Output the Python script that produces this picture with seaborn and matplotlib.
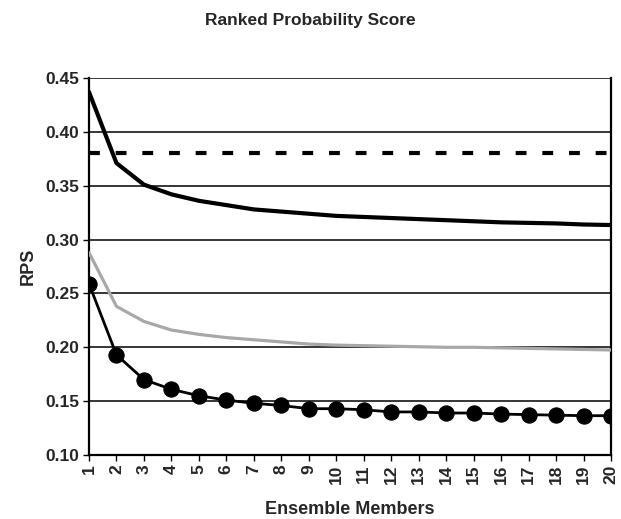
import pandas as pd
import seaborn as sns
import matplotlib.pyplot as plt

# Valeurs
members = list(range(1, 21))
climatology = [0.380] * 20
rps_solid = [0.437, 0.371, 0.351, 0.342, 0.336, 0.332, 0.328, 0.326, 0.324, 0.322,
             0.321, 0.320, 0.319, 0.318, 0.317, 0.316, 0.3155, 0.315, 0.314, 0.3135]
rps_gray = [0.288, 0.238, 0.224, 0.216, 0.212, 0.209, 0.207, 0.205, 0.203, 0.202,
            0.2015, 0.201, 0.2005, 0.200, 0.200, 0.1995, 0.199, 0.1985, 0.198, 0.1975]
rps_dots = [0.259, 0.193, 0.170, 0.161, 0.155, 0.151, 0.148, 0.146, 0.143, 0.143,
            0.142, 0.140, 0.140, 0.139, 0.139, 0.138, 0.1375, 0.137, 0.1365, 0.1365]
yticks = [0.10, 0.15, 0.20, 0.25, 0.30, 0.35, 0.40, 0.45]

df = pd.DataFrame({'Members': members, 'Clim': climatology, 'Solid': rps_solid,
                   'Gray': rps_gray, 'Dots': rps_dots})

sns.set_style('white')
plt.rcParams['font.family'] = ['Liberation Sans', 'DejaVu Sans']
plt.rcParams['font.weight'] = 'bold'

fig = plt.figure(figsize=(6.21, 5.19), dpi=100)
ax = fig.add_axes([0.1433, 0.1233, 0.8406, 0.7264])

for y in yticks:
    ax.axhline(y, color='black', lw=1.1, zorder=0)

sns.lineplot(data=df, x='Members', y='Clim', ax=ax, color='black', lw=3,
             dashes=False, zorder=2).lines[-1].set_dashes((2.6, 3.8))
sns.lineplot(data=df, x='Members', y='Solid', ax=ax, color='black', lw=3, zorder=3)
sns.lineplot(data=df, x='Members', y='Gray', ax=ax, color='#a8a8a8', lw=2.3, zorder=3)
sns.lineplot(data=df, x='Members', y='Dots', ax=ax, color='black', lw=2,
             marker='o', markersize=11, markeredgecolor='black', zorder=4)

ax.set_xlim(1, 20)
ax.set_ylim(0.10, 0.45)
ax.set_xticks(members)
ax.set_xticklabels([str(m) for m in members], rotation=90, fontsize=12.5, fontweight='bold')
ax.set_yticks(yticks)
ax.set_yticklabels([f'{v:.2f}' for v in yticks], fontsize=12.5, fontweight='bold')
ax.tick_params(axis='both', direction='out', length=4, width=1, color='black',
               bottom=True, left=True, pad=3)

for side in ['left', 'bottom', 'right']:
    ax.spines[side].set_visible(True)
    ax.spines[side].set_color('black')
    ax.spines[side].set_linewidth(1.6)
ax.spines['top'].set_visible(False)

ax.set_xlabel('Ensemble Members', fontsize=13, fontweight='bold', labelpad=12)
ax.set_ylabel('RPS', fontsize=13, fontweight='bold', labelpad=6)
fig.suptitle('Ranked Probability Score', fontsize=12.5, fontweight='bold', y=0.975)

fig.savefig('out.png', dpi=100)
